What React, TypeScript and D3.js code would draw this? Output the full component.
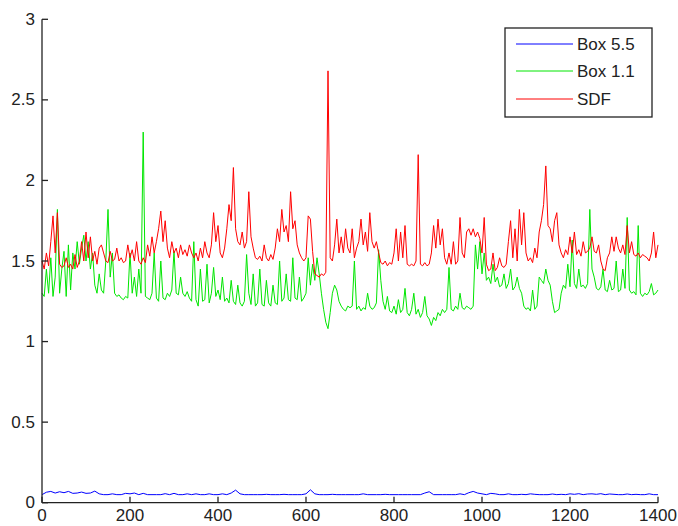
import React from "react";
import * as d3 from "d3";

const W = 678;
const H = 526;

const seriesNames = ["Box 5.5", "Box 1.1", "SDF"];
const seriesColors = ["#0000ff", "#00e600", "#ff0000"];

const xTicks = [0, 200, 400, 600, 800, 1000, 1200, 1400];
const yTicks = [0, 0.5, 1, 1.5, 2, 2.5, 3];

// sample spacing for each series (x units)
const redStep = 5;
const greenStep = 5;
const blueStep = 10;

// SDF
const sdf = [
  1.50,1.45,1.55,1.47,1.62,1.78,1.55,1.80,1.48,1.46,
  1.47,1.52,1.46,1.48,1.45,1.54,1.46,1.50,1.62,1.50,
  1.68,1.52,1.65,1.50,1.56,1.48,1.58,1.60,1.55,1.50,
  1.49,1.56,1.50,1.51,1.58,1.50,1.52,1.49,1.50,1.60,
  1.52,1.57,1.50,1.62,1.50,1.48,1.52,1.49,1.60,1.53,
  1.65,1.55,1.62,1.70,1.81,1.62,1.75,1.58,1.52,1.62,
  1.55,1.58,1.52,1.60,1.54,1.57,1.53,1.60,1.55,1.52,
  1.55,1.50,1.58,1.52,1.62,1.55,1.52,1.60,1.80,1.62,
  1.72,1.55,1.52,1.58,1.70,1.85,1.75,2.08,1.70,1.62,
  1.60,1.68,1.58,1.62,1.93,1.65,1.58,1.52,1.51,1.53,
  1.50,1.60,1.52,1.50,1.54,1.51,1.58,1.70,1.62,1.82,
  1.68,1.72,1.62,1.93,1.70,1.75,1.60,1.55,1.52,1.50,
  1.52,1.78,1.76,1.56,1.42,1.41,1.40,1.42,1.41,1.43,
  2.68,1.52,1.50,1.60,1.76,1.55,1.65,1.55,1.70,1.58,
  1.55,1.70,1.52,1.58,1.62,1.76,1.60,1.68,1.56,1.80,
  1.62,1.58,1.62,1.55,1.49,1.48,1.50,1.47,1.49,1.48,
  1.55,1.70,1.50,1.68,1.52,1.72,1.48,1.47,1.48,1.47,
  1.50,2.16,1.48,1.47,1.49,1.47,1.48,1.55,1.72,1.58,
  1.76,1.60,1.70,1.52,1.48,1.55,1.48,1.62,1.48,1.50,
  1.77,1.55,1.52,1.68,1.70,1.66,1.70,1.65,1.68,1.64,
  1.55,1.77,1.48,1.44,1.45,1.55,1.44,1.46,1.52,1.47,
  1.46,1.48,1.62,1.75,1.52,1.70,1.50,1.82,1.60,1.80,
  1.55,1.50,1.52,1.49,1.58,1.52,1.68,1.75,1.85,2.09,
  1.72,1.70,1.62,1.75,1.80,1.60,1.55,1.52,1.57,1.54,
  1.65,1.55,1.68,1.54,1.57,1.53,1.62,1.55,1.56,1.58,
  1.65,1.56,1.55,1.60,1.50,1.45,1.44,1.52,1.55,1.65,
  1.56,1.65,1.58,1.55,1.60,1.54,1.72,1.55,1.62,1.54,
  1.53,1.55,1.52,1.54,1.53,1.52,1.50,1.55,1.68,1.52,
  1.60,
];

// Box 1.1
const box11 = [
  1.30,1.28,1.45,1.30,1.52,1.28,1.40,1.82,1.30,1.45,
  1.56,1.28,1.60,1.32,1.55,1.45,1.62,1.48,1.58,1.66,
  1.50,1.62,1.45,1.55,1.35,1.30,1.42,1.32,1.30,1.50,
  1.82,1.40,1.55,1.30,1.28,1.29,1.27,1.26,1.28,1.27,
  1.55,1.30,1.40,1.28,1.45,1.30,2.30,1.28,1.27,1.26,
  1.30,1.55,1.27,1.25,1.50,1.27,1.26,1.30,1.28,1.32,
  1.56,1.30,1.29,1.40,1.30,1.28,1.31,1.27,1.25,1.62,
  1.26,1.22,1.45,1.25,1.26,1.48,1.24,1.30,1.46,1.28,
  1.32,1.26,1.40,1.25,1.27,1.24,1.38,1.25,1.23,1.35,
  1.24,1.22,1.25,1.54,1.30,1.23,1.42,1.22,1.24,1.45,
  1.23,1.22,1.38,1.24,1.22,1.35,1.24,1.23,1.50,1.25,
  1.27,1.42,1.26,1.25,1.52,1.27,1.26,1.40,1.25,1.27,
  1.30,1.52,1.35,1.48,1.38,1.52,1.42,1.30,1.20,1.12,
  1.08,1.18,1.30,1.35,1.32,1.25,1.22,1.20,1.19,1.22,
  1.21,1.22,1.50,1.20,1.22,1.19,1.21,1.20,1.30,1.22,
  1.20,1.21,1.24,1.57,1.38,1.25,1.20,1.28,1.19,1.18,
  1.22,1.17,1.26,1.18,1.20,1.33,1.18,1.16,1.20,1.30,
  1.17,1.20,1.15,1.18,1.28,1.16,1.14,1.10,1.15,1.13,
  1.18,1.16,1.20,1.18,1.20,1.46,1.20,1.19,1.22,1.20,
  1.30,1.21,1.20,1.22,1.21,1.20,1.22,1.60,1.45,1.62,
  1.42,1.55,1.38,1.40,1.36,1.48,1.37,1.40,1.34,1.35,
  1.42,1.33,1.36,1.45,1.32,1.34,1.40,1.33,1.30,1.22,
  1.20,1.21,1.19,1.32,1.20,1.22,1.40,1.38,1.36,1.45,
  1.38,1.35,1.25,1.18,1.19,1.20,1.30,1.35,1.33,1.48,
  1.34,1.63,1.36,1.33,1.45,1.34,1.35,1.33,1.36,1.82,
  1.45,1.40,1.33,1.32,1.34,1.45,1.32,1.31,1.38,1.32,
  1.33,1.50,1.31,1.32,1.45,1.33,1.77,1.32,1.30,1.31,
  1.29,1.72,1.30,1.28,1.30,1.29,1.31,1.36,1.29,1.30,
  1.32,
];

// Box 5.5
const box55 = [
  0.050,0.065,0.070,0.060,0.068,0.062,0.070,0.058,0.060,0.066,
  0.058,0.060,0.072,0.055,0.050,0.050,0.055,0.050,0.050,0.058,
  0.055,0.060,0.050,0.058,0.050,0.050,0.050,0.050,0.056,0.050,
  0.058,0.050,0.050,0.055,0.050,0.055,0.050,0.050,0.055,0.050,
  0.050,0.055,0.050,0.060,0.078,0.055,0.050,0.050,0.050,0.050,
  0.050,0.052,0.050,0.050,0.050,0.052,0.050,0.050,0.050,0.050,
  0.055,0.080,0.055,0.050,0.050,0.050,0.052,0.050,0.050,0.050,
  0.050,0.050,0.050,0.055,0.050,0.050,0.050,0.050,0.052,0.050,
  0.050,0.050,0.050,0.050,0.050,0.050,0.050,0.060,0.068,0.050,
  0.050,0.050,0.050,0.050,0.050,0.055,0.050,0.062,0.070,0.060,
  0.055,0.050,0.058,0.055,0.050,0.050,0.055,0.050,0.050,0.052,
  0.050,0.055,0.052,0.050,0.050,0.050,0.054,0.050,0.052,0.050,
  0.055,0.052,0.056,0.050,0.054,0.055,0.052,0.056,0.050,0.054,
  0.052,0.050,0.050,0.054,0.050,0.052,0.050,0.050,0.055,0.050,
  0.050,
];

const FONT = "'Liberation Sans', Arial, Helvetica, sans-serif";

export default function App() {
  const left = 42;
  const right = 658;
  const top = 19.3;
  const bottom = 502.7;

  const x = d3.scaleLinear().domain([0, 1400]).range([left, right]);
  const y = d3.scaleLinear().domain([0, 3]).range([bottom, top]);

  const mk = (vals: number[], step: number) =>
    d3
      .line<number>()
      .x((_, i) => x(i * step))
      .y((v) => y(v))(vals) || "";

  const paths = [mk(box55, blueStep), mk(box11, greenStep), mk(sdf, redStep)];

  const legX = 505;
  const legY = 28;
  const legW = 147;
  const legH = 89;
  const rowY = [44, 71, 99];

  return (
    <svg
      width={W}
      height={H}
      style={{ position: "absolute", left: 0, top: 0, background: "#fff" }}
      fontFamily={FONT}
    >
      <rect x={0} y={0} width={W} height={H} fill="#fff" />
      {paths.map((d, i) => (
        <path key={i} d={d} fill="none" stroke={seriesColors[i]} strokeWidth={1} />
      ))}
      {/* axes */}
      <line x1={left} y1={top} x2={left} y2={bottom} stroke="#222" strokeWidth={1.3} />
      <line x1={left} y1={bottom} x2={right} y2={bottom} stroke="#222" strokeWidth={1.3} />
      {yTicks.map((t) => (
        <g key={"y" + t}>
          <line x1={left} x2={left + 6} y1={y(t)} y2={y(t)} stroke="#222" strokeWidth={1.3} />
          <text
            x={left - 7}
            y={y(t)}
            textAnchor="end"
            dominantBaseline="central"
            fontSize={17}
            fill="#222"
          >
            {t}
          </text>
        </g>
      ))}
      {xTicks.map((t) => (
        <g key={"x" + t}>
          <line x1={x(t)} x2={x(t)} y1={bottom} y2={bottom - 6} stroke="#222" strokeWidth={1.3} />
          <text x={x(t)} y={521} textAnchor="middle" fontSize={17} fill="#222">
            {t}
          </text>
        </g>
      ))}
      {/* legend */}
      <rect x={legX} y={legY} width={legW} height={legH} fill="#fff" stroke="#222" strokeWidth={1.3} />
      {seriesNames.map((n, i) => (
        <g key={n}>
          <line x1={516} x2={573} y1={rowY[i]} y2={rowY[i]} stroke={seriesColors[i]} strokeWidth={1} />
          <text x={577} y={rowY[i]} dominantBaseline="central" fontSize={17} fill="#222">
            {n}
          </text>
        </g>
      ))}
    </svg>
  );
}
